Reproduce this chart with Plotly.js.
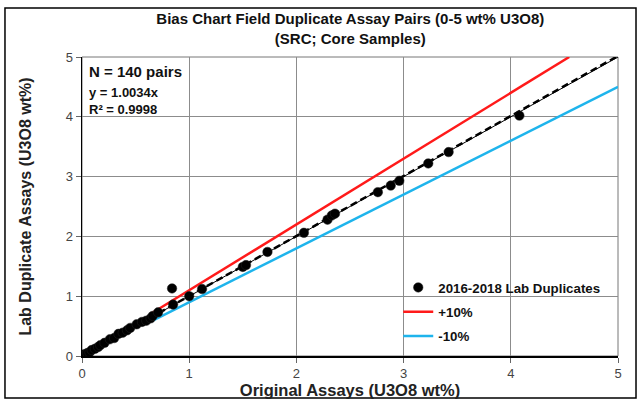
<!DOCTYPE html>
<html>
<head>
<meta charset="utf-8">
<script src="https://cdn.plot.ly/plotly-3.0.1.min.js"></script>
<style>html,body{margin:0;padding:0;background:#fff;}#chart{width:641px;height:405px;}</style>
</head>
<body>
<div id="chart"></div>
<script>
// Data
const originalAssays = [0.00, 0.01, 0.02, 0.03, 0.05, 0.07, 0.09, 0.12, 0.15, 0.17, 0.21, 0.26, 0.30, 0.34, 0.38, 0.42, 0.45, 0.51, 0.56, 0.60, 0.64, 0.66, 0.71,
  0.84, 0.85, 1.00, 1.12, 1.50, 1.53, 1.73, 2.07, 2.29, 2.33, 2.36, 2.76, 2.88, 2.96, 3.23, 3.42, 4.08];
const labDuplicates = [0.00, 0.01, 0.03, 0.02, 0.05, 0.06, 0.10, 0.12, 0.15, 0.18, 0.22, 0.28, 0.30, 0.37, 0.39, 0.43, 0.47, 0.53, 0.57, 0.59, 0.63, 0.67, 0.73,
  1.13, 0.86, 1.00, 1.12, 1.49, 1.52, 1.74, 2.06, 2.28, 2.35, 2.38, 2.74, 2.85, 2.93, 3.22, 3.41, 4.02];
const trendSlope = 1.0034;
const plus10X = [0.65, 4.545];
const plus10Y = [0.715, 5.0];
const minus10X = [0.65, 5.0];
const minus10Y = [0.585, 4.5];
const trendX = [0, 5];
const trendY = trendX.map(v => v * trendSlope);
const oneToOneX = [0, 5];
const oneToOneY = [0, 5];
const axisTicks = [0, 1, 2, 3, 4, 5];

const FONT = 'Arial, "Liberation Sans", sans-serif';

const traces = [
  {x: oneToOneX, y: oneToOneY, mode: 'lines', line: {color: '#000', width: 1}, showlegend: false, hoverinfo: 'skip'},
  {x: trendX, y: trendY, mode: 'lines', line: {color: '#000', width: 2.5, dash: '7px,4px'}, showlegend: false, hoverinfo: 'skip'},
  {x: plus10X, y: plus10Y, mode: 'lines', name: '+10%', line: {color: '#FF1A1A', width: 2.5}, legendgroup: 'b', legendrank: 2},
  {x: minus10X, y: minus10Y, mode: 'lines', name: '-10%', line: {color: '#1EB4EC', width: 2.5}, legendgroup: 'c', legendrank: 3},
  {x: originalAssays, y: labDuplicates, mode: 'markers', name: '2016-2018 Lab Duplicates',
   marker: {color: '#000', size: 9.5, line: {color: '#222', width: 0.5}}, legendgroup: 'a', legendrank: 1}
];

const axisCommon = {
  range: [0, 5], tickvals: axisTicks, ticktext: axisTicks.map(String),
  showgrid: true, gridcolor: '#8c8c8c', gridwidth: 1,
  zeroline: false, showline: true, linecolor: '#000', linewidth: 1.5,
  ticks: 'outside', ticklen: 5, tickcolor: '#666', tickwidth: 1,
  tickfont: {family: FONT, size: 13, color: '#444'}, fixedrange: true
};

const layout = {
  width: 641, height: 405,
  margin: {l: 82, r: 23, t: 57, b: 49},
  paper_bgcolor: '#fff', plot_bgcolor: '#fff',
  title: {text: '<b>Bias Chart Field Duplicate Assay Pairs (0-5 wt% U3O8)<br>(SRC; Core Samples)</b>',
          font: {family: FONT, size: 15, color: '#111'}, x: 0.5465, xanchor: 'center', y: 0.94, yanchor: 'top'},
  xaxis: Object.assign({}, axisCommon, {
    title: {text: '<b>Original Assays (U3O8 wt%)</b>', font: {family: FONT, size: 16.5, color: '#222'}, standoff: 0}
  }),
  yaxis: Object.assign({}, axisCommon, {
    title: {text: '<b>Lab Duplicate Assays (U3O8 wt%)</b>', font: {family: FONT, size: 16, color: '#222'}, standoff: 30}
  }),
  showlegend: true,
  legend: {x: 0.59, y: 0.28, xanchor: 'left', yanchor: 'top', bgcolor: 'rgba(0,0,0,0)',
           font: {family: FONT, size: 13.3, color: '#111', weight: 'bold'}, traceorder: 'grouped', tracegroupgap: 4},
  annotations: [
    {xref: 'paper', yref: 'paper', x: 0.01, y: 0.985, xanchor: 'left', yanchor: 'top', showarrow: false,
     text: '<b>N = 140 pairs</b>', font: {family: FONT, size: 15, color: '#111'}},
    {xref: 'paper', yref: 'paper', x: 0.01, y: 0.912, xanchor: 'left', yanchor: 'top', showarrow: false, align: 'left',
     text: '<b>y = ' + trendSlope.toFixed(4) + 'x<br>R² = 0.9998</b>', font: {family: FONT, size: 13, color: '#111'}}
  ],
  shapes: [
    {type: 'rect', xref: 'paper', yref: 'paper', x0: 0, x1: 1, y0: 0, y1: 1, line: {color: '#777', width: 1}, layer: 'below'},
    {type: 'rect', xref: 'paper', yref: 'paper', x0: -0.1437, x1: 1.0336, y0: -0.1405, y1: 1.1639, line: {color: '#000', width: 1.5}}
  ]
};

Plotly.newPlot('chart', traces, layout, {staticPlot: true, displayModeBar: false});
</script>
</body>
</html>
